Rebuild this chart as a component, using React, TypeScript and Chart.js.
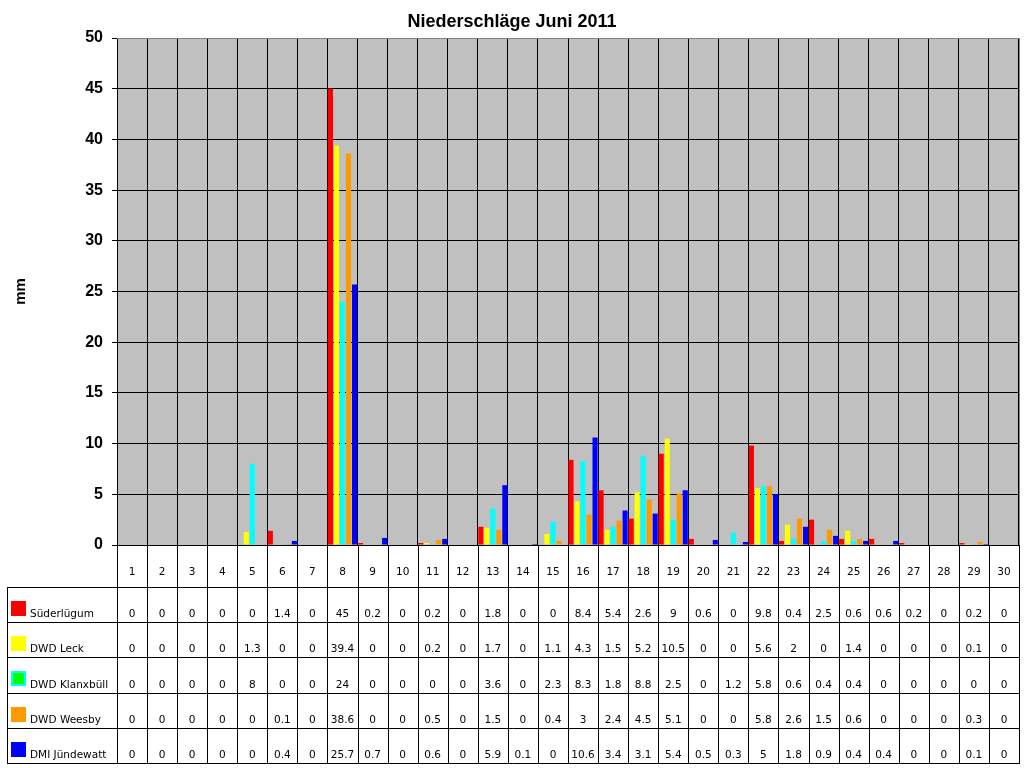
import { useEffect, useRef } from "react"
import { Chart, registerables } from "chart.js"
import type { Plugin } from "chart.js"

Chart.register(...registerables)

const days = [
  "1", "2", "3", "4", "5", "6", "7", "8", "9", "10",
  "11", "12", "13", "14", "15", "16", "17", "18", "19", "20",
  "21", "22", "23", "24", "25", "26", "27", "28", "29", "30",
]

const stations = ["Süderlügum", "DWD Leck", "DWD Klanxbüll", "DWD Weesby", "DMI Jündewatt"]

const suederluegum = [0, 0, 0, 0, 0, 1.4, 0, 45, 0.2, 0, 0.2, 0, 1.8, 0, 0, 8.4, 5.4, 2.6, 9, 0.6, 0, 9.8, 0.4, 2.5, 0.6, 0.6, 0.2, 0, 0.2, 0]
const leck = [0, 0, 0, 0, 1.3, 0, 0, 39.4, 0, 0, 0.2, 0, 1.7, 0, 1.1, 4.3, 1.5, 5.2, 10.5, 0, 0, 5.6, 2, 0, 1.4, 0, 0, 0, 0.1, 0]
const klanxbuell = [0, 0, 0, 0, 8, 0, 0, 24, 0, 0, 0, 0, 3.6, 0, 2.3, 8.3, 1.8, 8.8, 2.5, 0, 1.2, 5.8, 0.6, 0.4, 0.4, 0, 0, 0, 0, 0]
const weesby = [0, 0, 0, 0, 0, 0.1, 0, 38.6, 0, 0, 0.5, 0, 1.5, 0, 0.4, 3, 2.4, 4.5, 5.1, 0, 0, 5.8, 2.6, 1.5, 0.6, 0, 0, 0, 0.3, 0]
const juendewatt = [0, 0, 0, 0, 0, 0.4, 0, 25.7, 0.7, 0, 0.6, 0, 5.9, 0.1, 0, 10.6, 3.4, 3.1, 5.4, 0.5, 0.3, 5, 1.8, 0.9, 0.4, 0.4, 0, 0, 0.1, 0]

const barColors = ["#ff0000", "#ffff00", "#00ffff", "#ff9900", "#0000ff"]
// Legendenfelder in der Tabelle (Klanxbüll hat ein grünes Feld mit Cyan-Rand)
const swatchFill = ["#ff0000", "#ffff00", "#00ff00", "#ff9900", "#0000ff"]
const swatchBorder = [null, null, "#00ffff", null, null]

const TABLE_FONT = "10.5px 'DejaVu Sans', sans-serif"

const tablePlugin: Plugin<"bar"> = {
  id: "dataTable",
  beforeDraw(chart) {
    const { ctx, chartArea: a, width, height } = chart
    ctx.save()
    ctx.fillStyle = "#ffffff"
    ctx.fillRect(0, 0, width, height)
    ctx.fillStyle = "#c0c0c0"
    ctx.fillRect(a.left, a.top, a.right - a.left, a.bottom - a.top)
    ctx.restore()
  },
  afterDraw(chart) {
    const { ctx, chartArea: a } = chart
    const labels = chart.data.labels as string[]
    const n = labels.length
    const step = (a.right - a.left) / n
    const px = (v: number) => Math.round(v) + 0.5

    const tableLeft = 7
    const headerBottom = 587
    const tableBottom = 763
    const rowH = (tableBottom - headerBottom) / chart.data.datasets.length

    ctx.save()

    // Titel
    ctx.fillStyle = "#000"
    ctx.textAlign = "center"
    ctx.textBaseline = "alphabetic"
    ctx.font = "bold 18px 'Liberation Sans', Arial, sans-serif"
    ctx.fillText("Niederschläge Juni 2011", 512, 27)

    // Achsentitel
    ctx.save()
    ctx.translate(25, (a.top + a.bottom) / 2)
    ctx.rotate(-Math.PI / 2)
    ctx.font = "bold 15px 'Liberation Sans', Arial, sans-serif"
    ctx.fillText("mm", 0, 0)
    ctx.restore()

    // grauer Rahmen oben/rechts
    ctx.strokeStyle = "#808080"
    ctx.lineWidth = 1
    ctx.beginPath()
    ctx.moveTo(a.left, px(a.top))
    ctx.lineTo(a.right + 1, px(a.top))
    ctx.moveTo(px(a.right), a.top)
    ctx.lineTo(px(a.right), a.bottom)
    ctx.stroke()

    // Tabellenlinien
    ctx.strokeStyle = "#000"
    ctx.beginPath()
    for (let i = 0; i <= n; i++) {
      const x = px(a.left + i * step)
      ctx.moveTo(x, a.bottom)
      ctx.lineTo(x, tableBottom + 1)
    }
    ctx.moveTo(px(tableLeft), headerBottom)
    ctx.lineTo(px(tableLeft), tableBottom + 1)
    for (let r = 0; r <= chart.data.datasets.length; r++) {
      const y = px(headerBottom + r * rowH)
      ctx.moveTo(tableLeft, y)
      ctx.lineTo(a.right + 1, y)
    }
    ctx.stroke()

    // Kopfzeile mit Tagen
    const xs = chart.scales.x
    ctx.font = TABLE_FONT
    ctx.fillStyle = "#000"
    ctx.textAlign = "center"
    labels.forEach((lab, i) => {
      ctx.fillText(lab, xs.getPixelForValue(i), 575)
    })

    // Zeilen
    chart.data.datasets.forEach((ds, r) => {
      const top = headerBottom + r * rowH
      const bottom = top + rowH
      const sx = 11
      const sy = Math.round(top) + 14
      ctx.fillStyle = swatchFill[r]
      ctx.fillRect(sx, sy, 15, 15)
      if (swatchBorder[r]) {
        ctx.strokeStyle = swatchBorder[r] as string
        ctx.lineWidth = 2
        ctx.strokeRect(sx + 1, sy + 1, 13, 13)
      }
      ctx.fillStyle = "#000"
      ctx.textAlign = "left"
      ctx.fillText(String(ds.label), 30, bottom - 5)
      ctx.textAlign = "center"
      ;(ds.data as number[]).forEach((v, i) => {
        ctx.fillText(String(v), xs.getPixelForValue(i), bottom - 5)
      })
    })

    ctx.restore()
  },
}

export default function App() {
  const chartRef = useRef<HTMLCanvasElement>(null)
  const chartInstance = useRef<Chart | null>(null)

  useEffect(() => {
    if (!chartRef.current) return
    if (chartInstance.current) chartInstance.current.destroy()

    const series = [suederluegum, leck, klanxbuell, weesby, juendewatt]

    chartInstance.current = new Chart(chartRef.current, {
      type: "bar",
      data: {
        labels: days,
        datasets: series.map((data, i) => ({
          label: stations[i],
          data,
          backgroundColor: barColors[i],
          borderWidth: 0,
          barPercentage: 0.85,
          categoryPercentage: 1,
        })),
      },
      options: {
        responsive: false,
        animation: false,
        devicePixelRatio: 1,
        layout: { padding: { top: 38, right: 5, bottom: 0, left: 0 } },
        scales: {
          x: {
            ticks: { display: false },
            grid: { color: "#000", offset: true, drawTicks: false, lineWidth: 1 },
            border: { color: "#000" },
            afterFit: (s) => {
              s.height = 223
            },
          },
          y: {
            min: 0,
            max: 50,
            ticks: {
              stepSize: 5,
              color: "#000",
              padding: 9,
              font: { family: "'Liberation Sans', Arial, sans-serif", size: 16, weight: "bold" },
            },
            grid: { color: "#000", lineWidth: 1, tickLength: 5, tickColor: "#000" },
            border: { color: "#000" },
            afterFit: (s) => {
              s.width = 117
            },
          },
        },
        plugins: {
          legend: { display: false },
          title: { display: false },
          tooltip: { enabled: false },
        },
      },
      plugins: [tablePlugin],
    })

    return () => {
      if (chartInstance.current) {
        chartInstance.current.destroy()
        chartInstance.current = null
      }
    }
  }, [])

  return (
    <div style={{ position: "absolute", left: 0, top: 0, width: 1024, height: 768 }}>
      <canvas ref={chartRef} width={1024} height={768} style={{ display: "block" }} />
    </div>
  )
}
